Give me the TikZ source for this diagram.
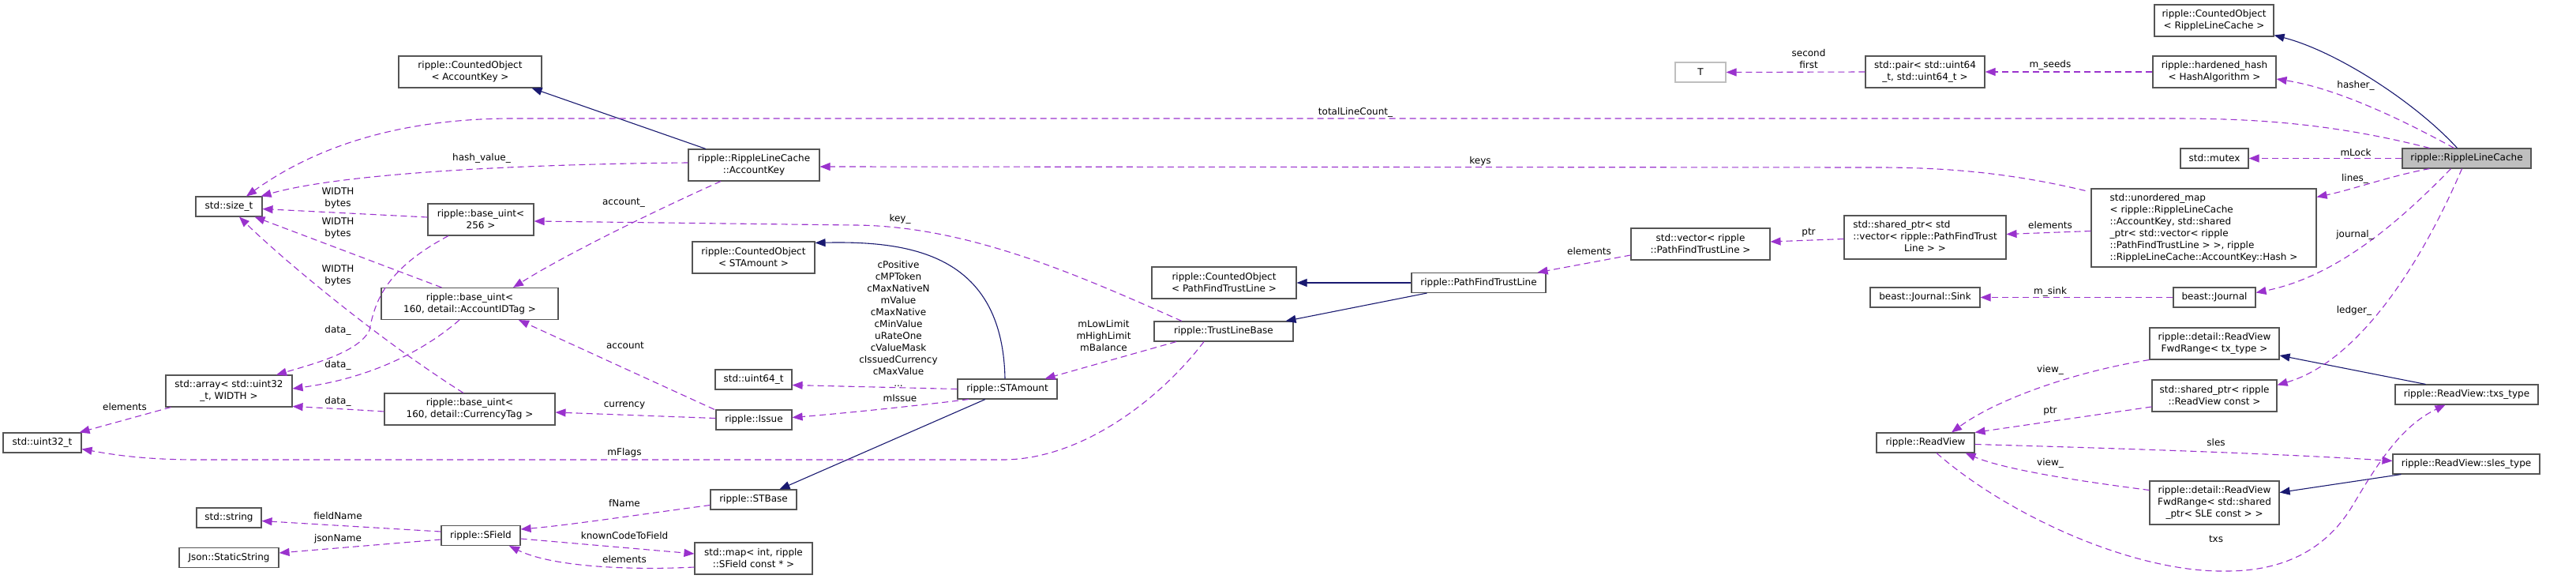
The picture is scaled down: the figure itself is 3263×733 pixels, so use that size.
\documentclass[tikz,border=0pt]{standalone}
\usepackage{fontspec}
\setmainfont{DejaVu Sans}
\usepackage{xcolor}
\usepackage{tikz}
\usetikzlibrary{arrows.meta,calc}
\definecolor{memcol}{HTML}{9A32CD}
\definecolor{inhcol}{HTML}{191970}
\definecolor{boxcol}{HTML}{555555}
\definecolor{rootfill}{HTML}{BFBFBF}
\definecolor{extcol}{HTML}{BFBFBF}
\tikzset{
  cls/.style={draw=boxcol, fill=white, line width=1.1pt, align=center, font=\fontsize{12pt}{15pt}\selectfont, inner xsep=2pt, inner ysep=2pt, minimum height=25pt},
  root/.style={cls, fill=rootfill},
  ext/.style={cls, draw=extcol},
  lbl/.style={align=center, font=\fontsize{12pt}{15pt}\selectfont, inner sep=0pt},
  memb/.style={draw=memcol, line width=1.1pt, dash pattern=on 8pt off 5pt, -{Triangle[length=13pt,width=10pt]}},
  inh/.style={draw=inhcol, line width=1.1pt, -{Triangle[length=13pt,width=10pt]}},
}
\begin{document}
\begin{tikzpicture}[x=1pt, y=-1pt]
\useasboundingbox (0,0) rectangle (3263,733);
\node[root, minimum width=163pt] (rlc) at (3124.5,200.5) {ripple::RippleLineCache};
\node[cls, minimum width=151pt, minimum height=40pt] (corlc) at (2804.5,26) {ripple::CountedObject\\< RippleLineCache >};
\node[cls, minimum width=156pt, minimum height=40pt] (hhash) at (2805,91) {ripple::hardened\_hash\\< HashAlgorithm >};
\node[cls, minimum width=151pt, minimum height=40pt] (pair) at (2438.5,91) {std::pair< std::uint64\\\_t, std::uint64\_t >};
\node[ext, minimum width=64pt] (T) at (2154,91.5) {T};
\node[cls, minimum width=86pt] (mutex) at (2805,200.5) {std::mutex};
\node[cls, align=left, minimum width=285pt, minimum height=99pt] (umap) at (2791.5,288.5) {std::unordered\_map\\< ripple::RippleLineCache\\::AccountKey, std::shared\\\_ptr< std::vector< ripple\\::PathFindTrustLine > >, ripple\\::RippleLineCache::AccountKey::Hash >};
\node[cls, minimum width=205pt, minimum height=55pt] (sptrvec) at (2438.5,300.5) {\begin{tabular}{@{}l@{}}std::shared\_ptr< std\\::vector< ripple::PathFindTrust\\\multicolumn{1}{@{}c@{}}{Line > >}\end{tabular}};
\node[cls, minimum width=176pt, minimum height=40pt] (vec) at (2154,309) {std::vector< ripple\\::PathFindTrustLine >};
\node[cls, minimum width=170pt] (pftl) at (1873,358) {ripple::PathFindTrustLine};
\node[cls, minimum width=183pt, minimum height=40pt] (copftl) at (1550.5,358) {ripple::CountedObject\\< PathFindTrustLine >};
\node[cls, minimum width=176pt] (tlb) at (1550,419.5) {ripple::TrustLineBase};
\node[cls, minimum width=139pt] (sink) at (2438.5,376.5) {beast::Journal::Sink};
\node[cls, minimum width=104pt] (journal) at (2805,376.5) {beast::Journal};
\node[cls, minimum width=164pt, minimum height=40pt] (fwdtx) at (2805,435) {ripple::detail::ReadView\\FwdRange< tx\_type >};
\node[cls, minimum width=158pt, minimum height=40pt] (sptrrv) at (2805,501) {std::shared\_ptr< ripple\\::ReadView const >};
\node[cls, minimum width=181pt] (txs) at (3124.5,499.5) {ripple::ReadView::txs\_type};
\node[cls, minimum width=186pt] (sles) at (3124,587.5) {ripple::ReadView::sles\_type};
\node[cls, minimum width=164pt, minimum height=55pt] (fwdsle) at (2805,636.5) {ripple::detail::ReadView\\FwdRange< std::shared\\\_ptr< SLE const > >};
\node[cls, minimum width=124pt] (rv) at (2439,560.5) {ripple::ReadView};
\node[cls, minimum width=126pt] (stamount) at (1276,492.5) {ripple::STAmount};
\node[cls, minimum width=155pt, minimum height=40pt] (costam) at (954.5,326) {ripple::CountedObject\\< STAmount >};
\node[cls, minimum width=166pt, minimum height=40pt] (acckey) at (955,209) {ripple::RippleLineCache\\::AccountKey};
\node[cls, minimum width=181pt, minimum height=40pt] (coacc) at (595.5,91) {ripple::CountedObject\\< AccountKey >};
\node[cls, minimum width=134pt, minimum height=40pt] (bu256) at (609,278) {ripple::base\_uint<\\256 >};
\node[cls, minimum width=224pt, minimum height=40pt] (buacc) at (595,384.5) {ripple::base\_uint<\\160, detail::AccountIDTag >};
\node[cls, minimum width=216pt, minimum height=40pt] (bucur) at (595,518) {ripple::base\_uint<\\160, detail::CurrencyTag >};
\node[cls, minimum width=97pt] (u64) at (954.5,480.5) {std::uint64\_t};
\node[cls, minimum width=96pt] (issue) at (955,531.5) {ripple::Issue};
\node[cls, minimum width=109pt] (stbase) at (954.5,632.5) {ripple::STBase};
\node[cls, minimum width=100pt] (sfield) at (609,678) {ripple::SField};
\node[cls, minimum width=149pt, minimum height=40pt] (smap) at (954.5,707) {std::map< int, ripple\\::SField const * >};
\node[cls, minimum width=84pt] (sizet) at (290,261.5) {std::size\_t};
\node[cls, minimum width=160pt, minimum height=40pt] (arr) at (290,495) {std::array< std::uint32\\\_t, WIDTH >};
\node[cls, minimum width=99pt] (u32) at (53.5,560.5) {std::uint32\_t};
\node[cls, minimum width=82pt] (sstring) at (290,655.5) {std::string};
\node[cls, minimum width=126pt] (jss) at (290,706) {Json::StaticString};
\draw[inh] ([xshift=-12pt]rlc.north) .. controls (3060,130) and (2960,65) .. ([yshift=2pt]corlc.south east);
\draw[inh] ([xshift=-61pt]acckey.north) -- ([xshift=-13pt]coacc.south east);
\draw[inh] ([xshift=-3pt]stamount.north) .. controls (1270,320) and (1150,305) .. ([yshift=-2pt]costam.north east);
\draw[inh] ([xshift=-28pt]stamount.south) -- ([xshift=33pt]stbase.north);
\draw[inh] (pftl.west) -- (copftl.east);
\draw[inh] ([xshift=20pt]pftl.south west) -- ([xshift=-10pt]tlb.north east);
\draw[inh] ([xshift=-52pt]txs.north) -- ([yshift=-15pt]fwdtx.east);
\draw[inh] ([xshift=11pt]sles.south west) -- ([yshift=13pt]fwdsle.east);
\draw[memb] ([xshift=-47pt]rlc.north) .. controls (2950,155) and (2850,150) .. (2750,150) -- (650,150) .. controls (480,150) and (380,200) .. ([xshift=22pt]sizet.north);
\draw[memb] ([yshift=3pt]acckey.west) .. controls (650,208) and (430,220) .. ([xshift=-2pt]sizet.north east);
\draw[memb] ([yshift=3pt]bu256.west) -- ([yshift=-3pt]sizet.east);
\draw[memb] ([xshift=77pt]buacc.north west) -- ([xshift=-10pt]sizet.south east);
\draw[memb] ([xshift=-8pt]bucur.north) .. controls (480,430) and (360,330) .. ([xshift=13pt]sizet.south);
\draw[memb] ([xshift=-41pt]bu256.south) .. controls (490,340) and (475,380) .. (468,418) .. controls (455,445) and (400,460) .. ([xshift=60pt]arr.north);
\draw[memb] ([xshift=-13pt]buacc.south) .. controls (530,450) and (460,480) .. ([yshift=3pt]arr.east);
\draw[memb] ([yshift=-3pt]bucur.west) .. controls (440,518) and (400,516) .. ([yshift=1pt]arr.south east);
\draw[memb] ([xshift=-42pt]acckey.south) .. controls (840,262) and (720,320) .. ([xshift=55pt]buacc.north);
\draw[memb] ([xshift=-50pt]issue.north) -- ([xshift=62pt]buacc.south);
\draw[memb] ([yshift=2pt]issue.west) -- ([yshift=-4pt]bucur.east);
\draw[memb] ([xshift=7pt]arr.south west) -- ([xshift=-3pt]u32.north east);
\draw[memb] ([xshift=-25pt]tlb.south) .. controls (1470,505) and (1370,582) .. (1270,582) -- (250,582) .. controls (180,582) and (140,575) .. ([yshift=-8pt]u32.east);
\draw[memb] ([yshift=-7pt]stbase.west) .. controls (820,650) and (720,665) .. ([yshift=8pt]sfield.east);
\draw[memb] ([yshift=5pt]sfield.west) -- ([yshift=-4pt]sstring.east);
\draw[memb] ([yshift=-5pt]sfield.west) -- ([yshift=6pt]jss.east);
\draw[memb] ([yshift=-4pt]sfield.east) -- ([yshift=6pt]smap.west);
\draw[memb] ([yshift=-11pt]smap.west) .. controls (800,722) and (700,718) .. ([xshift=36pt]sfield.south);
\draw[memb] (stamount.west) -- ([yshift=-7pt]u64.east);
\draw[memb] ([xshift=-49pt]stamount.south) .. controls (1150,515) and (1060,524) .. ([yshift=3pt]issue.east);
\draw[memb] ([xshift=-60pt]tlb.south) -- ([xshift=-16pt]stamount.north east);
\draw[memb] ([xshift=-53pt]tlb.north) .. controls (1380,355) and (1230,285) .. (1080,285) -- ([yshift=-2pt]bu256.east);
\draw[memb] ([yshift=-14pt]vec.west) -- ([xshift=-11pt]pftl.north east);
\draw[memb] ([yshift=-2pt]sptrvec.west) -- ([yshift=3pt]vec.east);
\draw[memb] ([yshift=-4pt]umap.west) -- ([yshift=4pt]sptrvec.east);
\draw[memb] ([xshift=-7pt,yshift=-3pt]umap.north west) .. controls (2560,222) and (2480,212) .. (2380,212) -- ([yshift=-2pt]acckey.east);
\draw[memb] (pair.west) -- (T.east);
\draw[memb] (hhash.west) -- (pair.east);
\draw[memb] ([xshift=-16pt]rlc.north) .. controls (3040,150) and (2960,112) .. ([yshift=-9pt]hhash.east);
\draw[memb] (rlc.west) -- (mutex.east);
\draw[memb] ([xshift=-47pt]rlc.south) .. controls (3030,222) and (2980,240) .. ([yshift=-11pt]umap.north east);
\draw[memb] ([xshift=-20pt]rlc.south) .. controls (3040,280) and (2960,350) .. ([yshift=6pt]journal.east);
\draw[memb] ([xshift=-6pt]rlc.south) .. controls (3060,350) and (2980,460) .. ([yshift=-7pt]sptrrv.north east);
\draw[memb] (journal.west) -- (sink.east);
\draw[memb] (fwdtx.south west) .. controls (2630,470) and (2530,505) .. ([xshift=33pt]rv.north);
\draw[memb] ([yshift=-14pt]sptrrv.west) -- (rv.north east);
\draw[memb] ([yshift=-2pt]rv.east) .. controls (2700,568) and (2900,575) .. ([yshift=4pt]sles.west);
\draw[memb] ([yshift=16pt]fwdsle.west) .. controls (2640,610) and (2540,595) .. ([xshift=-12pt]rv.south east);
\draw[memb] ([xshift=14pt]rv.south) .. controls (2540,650) and (2700,725) .. (2820,723) .. controls (2900,723) and (2950,690) .. (2980,640) .. controls (3010,590) and (3040,540) .. ([xshift=-27pt]txs.south);
\node[lbl] (l-total) at (1717,142) {totalLineCount\_};
\node[lbl] (l-hash) at (610,200) {hash\_value\_};
\node[lbl] (l-width1) at (428,251) {WIDTH\\bytes};
\node[lbl] (l-width2) at (428,289) {WIDTH\\bytes};
\node[lbl] (l-width3) at (428,349) {WIDTH\\bytes};
\node[lbl] (l-data1) at (428,418) {data\_};
\node[lbl] (l-data2) at (428,462) {data\_};
\node[lbl] (l-data3) at (428,508) {data\_};
\node[lbl] (l-elem1) at (158,515) {elements};
\node[lbl] (l-fieldname) at (428,653) {fieldName};
\node[lbl] (l-jsonname) at (428,682) {jsonName};
\node[lbl] (l-account1) at (790,257) {account\_};
\node[lbl] (l-key) at (1140,277) {key\_};
\node[lbl] (l-account2) at (792,437) {account};
\node[lbl] (l-currency) at (791,513) {currency};
\node[lbl] (l-flags) at (791,573) {mFlags};
\node[lbl] (l-fname) at (791,637) {fName};
\node[lbl] (l-known) at (791,678) {knownCodeToField};
\node[lbl] (l-elem2) at (791,708) {elements};
\node[lbl] (l-consts) at (1138,410) {cPositive\\cMPToken\\cMaxNativeN\\mValue\\cMaxNative\\cMinValue\\uRateOne\\cValueMask\\cIssuedCurrency\\cMaxValue\\...};
\node[lbl] (l-issue) at (1140,504) {mIssue};
\node[lbl] (l-limits) at (1398,425) {mLowLimit\\mHighLimit\\mBalance};
\node[lbl] (l-keys) at (1875,204) {keys};
\node[lbl] (l-elem3) at (2013,318) {elements};
\node[lbl] (l-pair) at (2291,75) {second\\first};
\node[lbl] (l-seeds) at (2597,82) {m\_seeds};
\node[lbl] (l-ptr1) at (2291,295) {ptr};
\node[lbl] (l-elem4) at (2597,285) {elements};
\node[lbl] (l-sink) at (2597,369) {m\_sink};
\node[lbl] (l-view1) at (2597,468) {view\_};
\node[lbl] (l-ptr2) at (2597,521) {ptr};
\node[lbl] (l-view2) at (2597,586) {view\_};
\node[lbl] (l-hasher) at (2984,108) {hasher\_};
\node[lbl] (l-lock) at (2984,193) {mLock};
\node[lbl] (l-lines) at (2983,226) {lines\_};
\node[lbl] (l-journal) at (2983,297) {journal\_};
\node[lbl] (l-ledger) at (2982,393) {ledger\_};
\node[lbl] (l-sles) at (2807,560) {sles};
\node[lbl] (l-txs) at (2807,682) {txs};
\end{tikzpicture}
\end{document}
